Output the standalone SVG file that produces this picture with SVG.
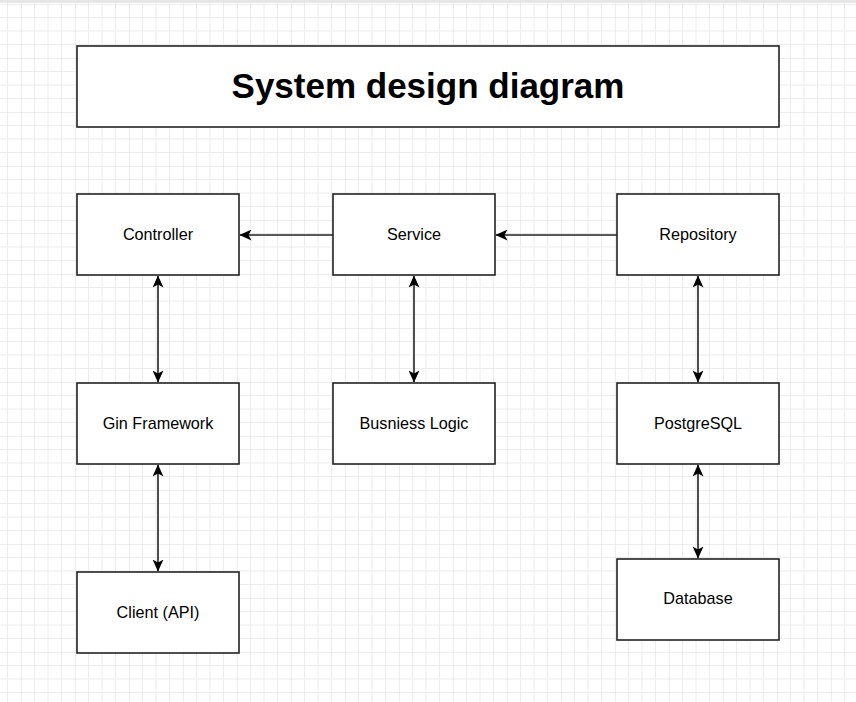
<svg xmlns="http://www.w3.org/2000/svg" width="856" height="702" viewBox="0 0 856 702">
  <defs>
    <pattern id="grid" patternUnits="userSpaceOnUse" x="21" y="4" width="54" height="54">
      <path d="M13.5 0V54M27 0V54M40.5 0V54M0 13.5H54M0 27H54M0 40.5H54" stroke="#ececec" stroke-width="1" fill="none"/>
      <path d="M0 0V54M0 0H54" stroke="#dcdcdc" stroke-width="1" fill="none"/>
    </pattern>
    <marker id="arrow" viewBox="0 0 12 11" refX="11.5" refY="5.5" markerWidth="12" markerHeight="11" markerUnits="userSpaceOnUse" orient="auto-start-reverse">
      <path d="M12 5.5L0 0L3 5.5L0 11Z" fill="#000"/>
    </marker>
    <style>
      .box { fill: #fff; stroke: #222; stroke-width: 1.6; }
      .label { font-family: "Liberation Sans", Arial, sans-serif; font-size: 16.2px; fill: #000; text-anchor: middle; }
      .title { font-family: "Liberation Sans", Arial, sans-serif; font-size: 35px; font-weight: bold; fill: #000; text-anchor: middle; }
      .conn { stroke: #222; stroke-width: 1.6; fill: none; }
    </style>
  </defs>
  <rect width="856" height="702" fill="#fff"/>
  <rect width="856" height="702" fill="url(#grid)"/>
  <rect width="856" height="3" fill="#e6e6e6"/>

  <g id="title">
    <rect class="box" x="77" y="46" width="702" height="81"/>
    <text class="title" x="428" y="98">System design diagram</text>
  </g>
  <g id="controller">
    <rect class="box" x="77" y="194" width="162" height="81"/>
    <text class="label" x="158" y="239.5">Controller</text>
  </g>
  <g id="service">
    <rect class="box" x="333" y="194" width="162" height="81"/>
    <text class="label" x="414" y="239.5">Service</text>
  </g>
  <g id="repository">
    <rect class="box" x="617" y="194" width="162" height="81"/>
    <text class="label" x="698" y="239.5">Repository</text>
  </g>
  <g id="gin">
    <rect class="box" x="77" y="383" width="162" height="81"/>
    <text class="label" x="158" y="428.5">Gin Framework</text>
  </g>
  <g id="business">
    <rect class="box" x="333" y="383" width="162" height="81"/>
    <text class="label" x="414" y="428.5">Busniess Logic</text>
  </g>
  <g id="postgres">
    <rect class="box" x="617" y="383" width="162" height="81"/>
    <text class="label" x="698" y="428.5">PostgreSQL</text>
  </g>
  <g id="client">
    <rect class="box" x="77" y="572" width="162" height="81"/>
    <text class="label" x="158" y="617.5">Client (API)</text>
  </g>
  <g id="database">
    <rect class="box" x="617" y="559" width="162" height="81"/>
    <text class="label" x="698" y="604">Database</text>
  </g>

  <g id="connectors">
    <line class="conn" x1="333" y1="235" x2="240" y2="235" marker-end="url(#arrow)"/>
    <line class="conn" x1="617" y1="235" x2="496" y2="235" marker-end="url(#arrow)"/>
    <line class="conn" x1="158" y1="276" x2="158" y2="382" marker-start="url(#arrow)" marker-end="url(#arrow)"/>
    <line class="conn" x1="414" y1="276" x2="414" y2="382" marker-start="url(#arrow)" marker-end="url(#arrow)"/>
    <line class="conn" x1="698" y1="276" x2="698" y2="382" marker-start="url(#arrow)" marker-end="url(#arrow)"/>
    <line class="conn" x1="158" y1="465" x2="158" y2="571" marker-start="url(#arrow)" marker-end="url(#arrow)"/>
    <line class="conn" x1="698" y1="465" x2="698" y2="558" marker-start="url(#arrow)" marker-end="url(#arrow)"/>
  </g>
</svg>
